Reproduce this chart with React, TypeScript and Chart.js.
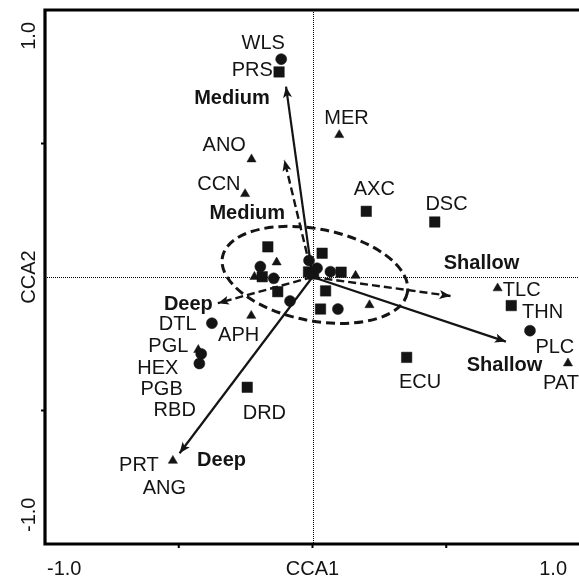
import { useEffect, useRef } from "react";
import { Chart, registerables } from "chart.js";

Chart.register(...registerables);

// ---- data (CCA1, CCA2 scores) ----
const circlePts: [number, number][] = [
  [-0.117, 0.816], [0.813, -0.201], [-0.376, -0.173], [-0.416, -0.288], [-0.423, -0.324],
  [-0.195, 0.039], [-0.145, -0.005], [-0.084, -0.09], [-0.013, 0.062], [0.017, 0.033],
  [0.067, 0.02], [0.095, -0.12],
];
const squarePts: [number, number][] = [
  [-0.125, 0.768], [0.201, 0.246], [0.457, 0.206], [0.743, -0.107], [0.352, -0.301],
  [-0.244, -0.413], [-0.167, 0.113], [-0.188, 0.001], [-0.13, -0.055], [0.036, 0.089],
  [-0.015, 0.019], [0.004, 0.011], [0.107, 0.018], [0.049, -0.052], [0.03, -0.12],
];
const trianglePts: [number, number][] = [
  [0.1, 0.532], [-0.228, 0.441], [-0.252, 0.311], [0.692, -0.042], [0.955, -0.323],
  [-0.522, -0.688], [-0.229, -0.145], [-0.427, -0.273], [-0.134, 0.055], [-0.217, 0.001],
  [0.161, 0.005], [0.213, -0.105],
];

// environmental vectors (arrow tips), from origin
const solidArrowTips: [number, number][] = [[-0.099, 0.713], [-0.497, -0.66], [0.723, -0.242]];
const dashedArrowTips: [number, number][] = [[-0.105, 0.438], [-0.354, -0.098], [0.516, -0.071]];

// species labels (centre of text, in axis units)
const speciesNames = ["WLS", "PRS", "MER", "ANO", "CCN", "AXC", "DSC", "TLC", "THN", "PLC", "PAT", "ECU", "DRD", "PRT", "ANG", "DTL", "APH", "PGL", "HEX", "PGB", "RBD"];
const speciesX = [-0.184, -0.225, 0.127, -0.33, -0.35, 0.231, 0.501, 0.782, 0.86, 0.906, 0.929, 0.402, -0.18, -0.649, -0.554, -0.504, -0.276, -0.539, -0.578, -0.564, -0.515];
const speciesY = [0.881, 0.779, 0.599, 0.498, 0.353, 0.334, 0.278, -0.046, -0.126, -0.258, -0.392, -0.388, -0.504, -0.7, -0.788, -0.173, -0.215, -0.255, -0.338, -0.417, -0.496];

// environmental labels
const envNames = ["Medium", "Medium", "Deep", "Deep", "Shallow", "Shallow"];
const envX = [-0.301, -0.244, -0.464, -0.34, 0.632, 0.718];
const envY = [0.673, 0.242, -0.099, -0.683, 0.057, -0.326];

// ellipse (centre, semi-axes, rotation in degrees)
const ellipseCenter: [number, number] = [0.009, 0.008];
const ellipseRadii: [number, number] = [0.352, 0.172];
const ellipseAngleDeg = -11;

// axes
const axisMin = -1;
const axisMax = 1;
const xTickValues = [-0.5, 0, 0.5];
const yTickValues = [-0.5, 0.5];
const xAxisLabels = ["-1.0", "CCA1", "1.0"];
const yAxisLabels = ["1.0", "CCA2", "-1.0"];

const INK = "#141414";
const FONT = '"Liberation Sans", Arial, Helvetica, sans-serif';

const overlay = {
  id: "overlay",
  beforeDatasetsDraw(chart: any) {
    const { ctx, chartArea: a, scales } = chart;
    const xs = scales.x, ys = scales.y;
    ctx.save();
    // zero lines (dotted)
    ctx.strokeStyle = "#000";
    ctx.lineWidth = 1;
    ctx.setLineDash([1, 1]);
    const x0 = Math.round(xs.getPixelForValue(0)) + 0.5;
    const y0 = Math.round(ys.getPixelForValue(0)) + 0.5;
    ctx.beginPath();
    ctx.moveTo(x0, a.top);
    ctx.lineTo(x0, a.bottom);
    ctx.moveTo(a.left, y0);
    ctx.lineTo(a.right + 2, y0);
    ctx.stroke();
    // ellipse
    const cx = xs.getPixelForValue(ellipseCenter[0]);
    const cy = ys.getPixelForValue(ellipseCenter[1]);
    const rx = Math.abs(xs.getPixelForValue(ellipseRadii[0]) - xs.getPixelForValue(0));
    const ry = Math.abs(ys.getPixelForValue(ellipseRadii[1]) - ys.getPixelForValue(0));
    ctx.setLineDash([9, 5]);
    ctx.lineWidth = 3;
    ctx.strokeStyle = INK;
    ctx.beginPath();
    ctx.ellipse(cx, cy, rx, ry, (-ellipseAngleDeg * Math.PI) / 180, 0, Math.PI * 2);
    ctx.stroke();
    ctx.restore();
  },
  afterDatasetsDraw(chart: any) {
    const { ctx, chartArea: a, scales } = chart;
    const xs = scales.x, ys = scales.y;
    ctx.save();
    ctx.setLineDash([]);
    // arrowheads
    const ox = xs.getPixelForValue(0), oy = ys.getPixelForValue(0);
    const heads = [...solidArrowTips, ...dashedArrowTips];
    ctx.fillStyle = INK;
    heads.forEach(([tx, ty]) => {
      const px = xs.getPixelForValue(tx), py = ys.getPixelForValue(ty);
      const ang = Math.atan2(py - oy, px - ox);
      const L = 11, W = 4.5, N = 2.5;
      ctx.save();
      ctx.translate(px, py);
      ctx.rotate(ang);
      ctx.beginPath();
      ctx.moveTo(0, 0);
      ctx.lineTo(-L, -W);
      ctx.lineTo(-L + N, 0);
      ctx.lineTo(-L, W);
      ctx.closePath();
      ctx.fill();
      ctx.restore();
    });
    // species labels
    ctx.fillStyle = INK;
    ctx.textAlign = "center";
    ctx.textBaseline = "alphabetic";
    ctx.font = `20px ${FONT}`;
    speciesNames.forEach((n, i) => {
      ctx.fillText(n, xs.getPixelForValue(speciesX[i]), ys.getPixelForValue(speciesY[i]) + 7);
    });
    ctx.font = `bold 20px ${FONT}`;
    envNames.forEach((n, i) => {
      ctx.fillText(n, xs.getPixelForValue(envX[i]), ys.getPixelForValue(envY[i]) + 7);
    });
    // frame (left, top, bottom)
    ctx.strokeStyle = "#000";
    ctx.lineWidth = 3.2;
    ctx.lineCap = "square";
    ctx.beginPath();
    ctx.moveTo(a.right + 5, a.top);
    ctx.lineTo(a.left, a.top);
    ctx.lineTo(a.left, a.bottom);
    ctx.lineTo(a.right + 5, a.bottom);
    ctx.stroke();
    // ticks
    ctx.lineWidth = 2;
    ctx.lineCap = "butt";
    ctx.beginPath();
    xTickValues.forEach((v) => {
      const p = xs.getPixelForValue(v);
      ctx.moveTo(p, a.bottom);
      ctx.lineTo(p, a.bottom + 4);
    });
    yTickValues.forEach((v) => {
      const p = ys.getPixelForValue(v);
      ctx.moveTo(a.left, p);
      ctx.lineTo(a.left - 4, p);
    });
    ctx.stroke();
    // axis labels
    ctx.font = `20px ${FONT}`;
    ctx.fillStyle = INK;
    const by = a.bottom + 31;
    ctx.textAlign = "left";
    ctx.fillText(xAxisLabels[0], xs.getPixelForValue(axisMin) + 2, by);
    ctx.textAlign = "center";
    ctx.fillText(xAxisLabels[1], xs.getPixelForValue(0), by);
    ctx.textAlign = "right";
    ctx.fillText(xAxisLabels[2], xs.getPixelForValue(axisMax) - 13, by);
    // y labels rotated
    const bx = a.left - 10;
    const drawRot = (t: string, yy: number, align: CanvasTextAlign) => {
      ctx.save();
      ctx.translate(bx, yy);
      ctx.rotate(-Math.PI / 2);
      ctx.textAlign = align;
      ctx.fillText(t, 0, 0);
      ctx.restore();
    };
    drawRot(yAxisLabels[0], ys.getPixelForValue(axisMax) + 12, "right");
    drawRot(yAxisLabels[1], ys.getPixelForValue(0), "center");
    drawRot(yAxisLabels[2], ys.getPixelForValue(axisMin) - 12, "left");
    ctx.restore();
  },
};

export default function App() {
  const ref = useRef<HTMLCanvasElement | null>(null);
  useEffect(() => {
    if (!ref.current) return;
    const toXY = (arr: [number, number][]) => arr.map(([x, y]) => ({ x, y }));
    const marker = (data: [number, number][], style: string, r: number) => ({
      type: "scatter" as const,
      data: toXY(data),
      pointStyle: style,
      pointRadius: r,
      pointBackgroundColor: INK,
      pointBorderColor: INK,
      pointBorderWidth: 0.5,
      showLine: false,
    });
    const arrow = (tip: [number, number], dashed: boolean) => ({
      type: "line" as const,
      data: [{ x: 0, y: 0 }, { x: tip[0], y: tip[1] }],
      borderColor: INK,
      borderWidth: dashed ? 2.4 : 2.2,
      borderDash: dashed ? [8, 4] : [],
      pointRadius: 0,
      fill: false,
      tension: 0,
    });
    const chart = new Chart(ref.current, {
      type: "scatter",
      data: {
        datasets: [
          marker(circlePts, "circle", 5.5),
          marker(squarePts, "rect", 7.4),
          marker(trianglePts, "triangle", 5.3),
          ...solidArrowTips.map((t) => arrow(t, false)),
          ...dashedArrowTips.map((t) => arrow(t, true)),
        ] as any,
      },
      options: {
        animation: false,
        responsive: false,
        devicePixelRatio: 1,
        events: [],
        layout: { autoPadding: false, padding: { left: 45, top: 10, right: 1, bottom: 35 } },
        plugins: { legend: { display: false }, tooltip: { enabled: false } },
        scales: {
          x: { type: "linear", min: axisMin, max: axisMax, display: false },
          y: { type: "linear", min: axisMin, max: axisMax, display: false },
        },
      },
      plugins: [overlay],
    });
    return () => chart.destroy();
  }, []);
  return (
    <div style={{ position: "fixed", left: 0, top: 0, width: 579, height: 579, overflow: "hidden", background: "#fff" }}>
      <canvas ref={ref} width={581} height={579} style={{ display: "block", width: 581, height: 579 }} />
    </div>
  );
}
